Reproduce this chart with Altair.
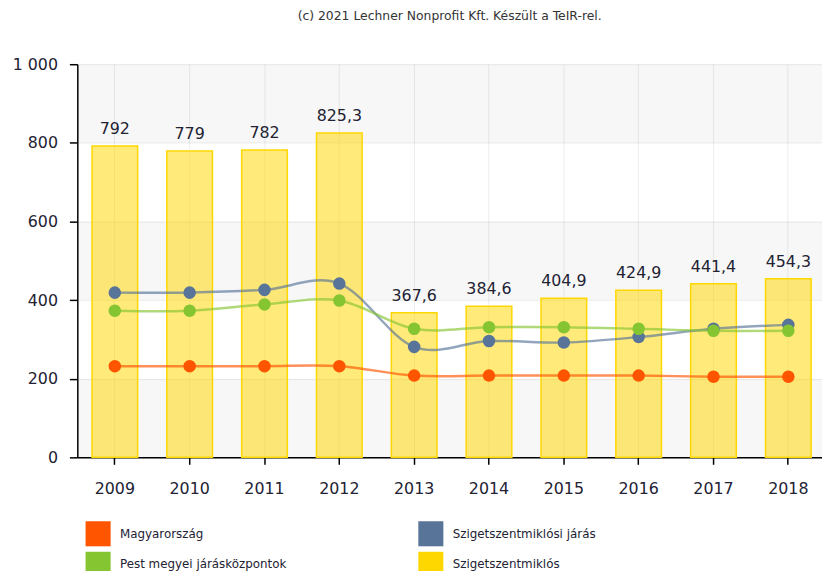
import altair as alt
import pandas as pd

years = ["2009", "2010", "2011", "2012", "2013", "2014", "2015", "2016", "2017", "2018"]
szigetszentmiklos = [792, 779, 782, 825.3, 367.6, 384.6, 404.9, 424.9, 441.4, 454.3]
magyarorszag = [232, 232, 232, 232, 208, 208, 208, 208, 205, 205]
jaras = [419, 419, 426, 442, 281, 296, 292, 306, 327, 337]
pest = [373, 373, 389, 399, 327, 331, 331, 327, 322, 322]

# legend order (filled column by column)
series_names = ["Magyarország", "Pest megyei járásközpontok",
                "Szigetszentmiklósi járás", "Szigetszentmiklós"]
series_colors = ["#FF5500", "#86C532", "#587498", "#FFD700"]

band_lo = [0, 400, 800]
band_hi = [200, 600, 1000]
y_ticks = [0, 200, 400, 600, 800, 1000]

FONT = "DejaVu Sans"
TXT = "#222233"

bars_df = pd.DataFrame({
    "year": years,
    "value": szigetszentmiklos,
    "label": [("%g" % v).replace(".", ",") for v in szigetszentmiklos],
})
lines_df = pd.DataFrame({
    "year": years * 3,
    "value": magyarorszag + jaras + pest,
    "series": ["Magyarország"] * 10 + ["Szigetszentmiklósi járás"] * 10
              + ["Pest megyei járásközpontok"] * 10,
})
bands_df = pd.DataFrame({"lo": band_lo, "hi": band_hi})

xscale = alt.Scale(domain=years, paddingInner=0.39, paddingOuter=0.1705, align=0.575)
yscale = alt.Scale(domain=[0, 1000], nice=False)

x_enc = alt.X("year:O", scale=xscale, sort=years, title=None,
              axis=alt.Axis(labelAngle=0, labelFontSize=16, labelPadding=17,
                            tickSize=7, grid=True))
y_axis = alt.Axis(values=y_ticks, title=None, labelFontSize=16, labelPadding=12,
                  tickSize=8, grid=True,
                  labelExpr="replace(format(datum.value, ','), ',', ' ')")

color_scale = alt.Scale(domain=series_names, range=series_colors)
legend = alt.Legend(title=None, orient="none", legendX=8, legendY=461,
                    columns=2, symbolType="square", symbolSize=640,
                    labelOffset=9, labelLimit=400, rowPadding=5,
                    columnPadding=132)

bands = alt.Chart(bands_df).mark_rect(color="#000000", opacity=0.03).encode(
    y=alt.Y("lo:Q", scale=yscale, axis=y_axis),
    y2="hi:Q",
)

bars = alt.Chart(bars_df).mark_bar(
    color="#FFD700", fillOpacity=0.52, stroke="#FFD700", strokeWidth=1.5
).encode(
    x=x_enc,
    y=alt.Y("value:Q", scale=yscale),
)

bar_text = alt.Chart(bars_df).mark_text(
    dy=-12, baseline="alphabetic", fontSize=16, font=FONT, color=TXT
).encode(
    x=x_enc,
    y=alt.Y("value:Q", scale=yscale),
    text="label:N",
)

lines = alt.Chart(lines_df).mark_line(
    interpolate="cardinal", strokeWidth=2.5, opacity=0.65
).encode(
    x=x_enc,
    y=alt.Y("value:Q", scale=yscale),
    color=alt.Color("series:N", scale=color_scale, legend=legend),
    detail="series:N",
)

points = alt.Chart(lines_df).mark_circle(size=160, opacity=1).encode(
    x=x_enc,
    y=alt.Y("value:Q", scale=yscale),
    color=alt.Color("series:N", scale=color_scale, legend=legend),
)

chart = alt.layer(bands, bars, lines, points, bar_text).properties(
    width=752, height=397,
    padding={"left": 70, "top": 54, "right": 0, "bottom": 112},
    autosize=alt.AutoSizeParams(type="none"),
    title=alt.TitleParams("(c) 2021 Lechner Nonprofit Kft. Készült a TeIR-rel.",
                          fontSize=12.5, font=FONT, fontWeight="normal",
                          color="#333333", anchor="middle", offset=34),
).configure_view(stroke=None).configure_axis(
    domainColor="#000000", domainWidth=1.5, tickColor="#000000", tickWidth=1.5,
    labelColor=TXT, labelFont=FONT, gridColor="#000000", gridOpacity=0.08,
    zindex=1,
).configure_legend(
    labelFontSize=12, labelFont=FONT, labelColor=TXT, padding=0,
    symbolStrokeWidth=0, symbolOpacity=1,
)

chart.save("out.html", embed_options={"renderer": "svg", "actions": False})
